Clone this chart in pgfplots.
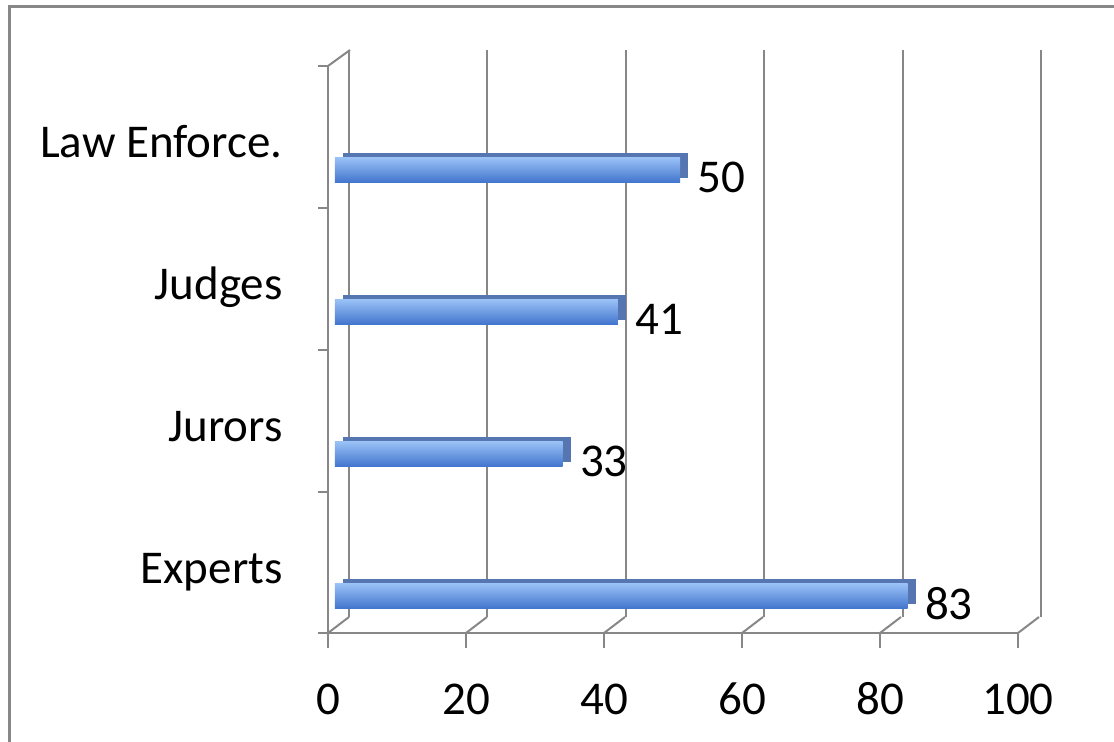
\documentclass[border=0pt]{standalone}
\usepackage{fontspec}
\setmainfont{Carlito}
\usepackage{pgfplots}
\pgfplotsset{compat=1.18}
\definecolor{gridgray}{HTML}{878787}
\definecolor{barhi}{HTML}{98C0F6}
\definecolor{barmid}{HTML}{6A9DE9}
\definecolor{barlo}{HTML}{4073CC}
\definecolor{bardeep}{HTML}{5576B0}
\newcommand\bigfont{\fontsize{23.5}{28}\selectfont}
\pgfplotsset{
  front bar/.style={xbar, bar width=12.5pt, bar shift=-1.25pt, draw=none,
    top color=barhi, middle color=barmid, bottom color=barlo, xshift=3.5pt},
  back bar/.style={xbar, bar width=12.5pt, bar shift=-1.25pt, draw=none,
    fill=bardeep, xshift=7.5pt, yshift=2.5pt},
  value label/.style={nodes near coords,
    nodes near coords style={font=\bigfont, anchor=west, inner sep=0pt,
      xshift=8.5pt, yshift=-4.75pt, text=black}},
}
\begin{document}
\begin{tikzpicture}[x=0.5pt, y=-0.5pt]
\path[use as bounding box] (0,0) rectangle (1114,742);
\draw[gridgray, line width=1.5pt] (9,760) -- (9,7) -- (1130,7);

% back wall: grid only
\begin{axis}[at={(174.5pt,-308.5pt)}, anchor=south west, scale only axis,
  width=346pt, height=283.5pt, xmin=0, xmax=100, ymin=0, ymax=1,
  xtick={0,20,...,100}, xticklabels={}, ytick=\empty,
  xmajorgrids, grid style={gridgray, line width=1pt},
  axis line style={draw=none}, tick style={draw=none}]
\end{axis}

% front: axes, ticks, bars
\begin{axis}[at={(164pt,-316.5pt)}, anchor=south west, scale only axis,
  width=345pt, height=283.5pt, xmin=0, xmax=100, ymin=-0.275, ymax=3.718,
  axis x line*=bottom, axis y line*=left,
  axis line style={gridgray, line width=1pt},
  xtick={0,20,...,100}, tick align=outside, major tick length=7.5pt,
  x tick style={gridgray, line width=1pt},
  ytick={0.077,1.077,2.077,3.077},
  yticklabels={Experts, Jurors, Judges, Law Enforce.},
  y tick style={draw=none},
  extra y ticks={-0.275,0.718,1.718,2.718,3.718}, extra y tick labels={},
  extra y tick style={major tick length=5pt, y tick style={gridgray, line width=1pt, draw=gridgray}},
  ticklabel style={font=\bigfont},
  /pgf/number format/assume math mode=true,
  yticklabel style={anchor=base east, inner sep=0pt, xshift=-15pt},
  xticklabel style={anchor=base, inner sep=0pt, yshift=-33pt},
  clip=false]
\pgfplotsinvokeforeach{0,20,...,100}{
  \draw[gridgray, line width=1pt] (axis cs:#1,-0.275) -- ++(10.5pt,8pt);
}
\draw[gridgray, line width=1pt] (axis cs:0,3.718) -- ++(11pt,8pt);
\addplot[back bar] coordinates {(83,0)};
\addplot[back bar] coordinates {(33,1)};
\addplot[back bar] coordinates {(41,2)};
\addplot[back bar] coordinates {(50,3)};
\addplot[front bar, value label] coordinates {(83,0)};
\addplot[front bar, value label] coordinates {(33,1)};
\addplot[front bar, value label] coordinates {(41,2)};
\addplot[front bar, value label] coordinates {(50,3)};
\end{axis}
\end{tikzpicture}
\end{document}
